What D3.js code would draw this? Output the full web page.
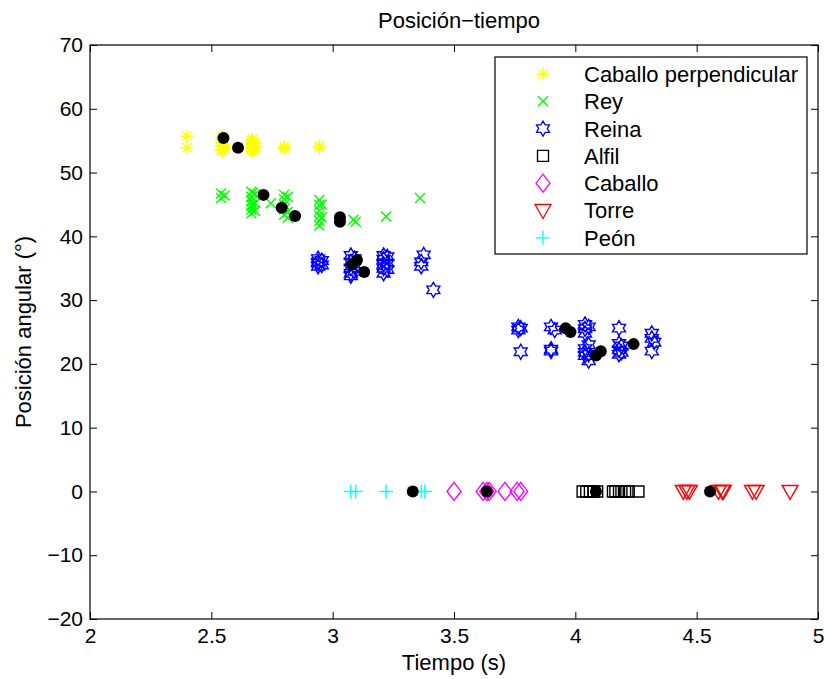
<!DOCTYPE html>
<html>
<head>
<meta charset="utf-8">
<script src="https://cdn.jsdelivr.net/npm/d3@7"></script>
<style>
  html, body { margin: 0; padding: 0; background: #fff; }
  svg { display: block; font-family: "Liberation Sans", Arial, Helvetica, sans-serif; }
</style>
</head>
<body>
<svg id="chart" width="825" height="679"></svg>
<script>
// Tiempo (s) y posición angular (°) de cada pieza
const caballoPerpT = [2.40, 2.40, 2.54, 2.54, 2.54, 2.54, 2.545, 2.545, 2.545, 2.555, 2.555,
                      2.665, 2.665, 2.665, 2.665, 2.67, 2.67, 2.67, 2.67, 2.68, 2.68, 2.685,
                      2.80, 2.80, 2.945, 2.945];
const caballoPerpA = [55.7, 53.9, 55.2, 54.2, 53.6, 54.8, 53.4, 54.0, 55.6, 53.8, 54.5,
                      53.5, 54.3, 55.0, 53.8, 54.1, 53.3, 55.2, 54.7, 54.6, 53.6, 54.0,
                      54.0, 53.8, 54.2, 53.9];

const reyT = [2.54, 2.54, 2.555, 2.665, 2.665, 2.665, 2.665, 2.665, 2.665, 2.67, 2.67, 2.68, 2.68, 2.68, 2.745,
              2.80, 2.80, 2.80, 2.80, 2.80, 2.815, 2.815, 2.815, 2.945, 2.945, 2.945, 2.945, 2.945, 2.945,
              2.955, 2.955, 3.085, 3.095, 3.22, 3.36];
const reyA = [46.7, 46.0, 46.4, 47.0, 46.2, 45.5, 44.8, 44.2, 43.6, 46.8, 45.0, 46.6, 45.2, 44.0, 45.2,
              46.5, 45.8, 45.0, 44.2, 43.4, 46.2, 43.8, 42.9, 45.7, 44.9, 44.0, 43.2, 42.4, 41.7,
              45.0, 43.0, 42.6, 42.3, 43.1, 46.0];

const reinaT = [2.94, 2.94, 2.94, 2.94, 2.955, 2.955, 3.075, 3.075, 3.075, 3.075, 3.075, 3.09, 3.09, 3.09,
                3.21, 3.21, 3.21, 3.21, 3.21, 3.225, 3.225, 3.225, 3.365, 3.365, 3.375, 3.415,
                3.765, 3.765, 3.775, 3.775, 3.90, 3.90, 3.90, 3.915,
                4.04, 4.04, 4.04, 4.04, 4.04, 4.04, 4.055, 4.055, 4.055, 4.055,
                4.18, 4.18, 4.18, 4.18, 4.19, 4.19, 4.315, 4.315, 4.315, 4.325];
const reinaA = [36.5, 35.8, 35.3, 36.0, 35.5, 36.2, 37.0, 36.0, 35.0, 34.2, 33.8, 36.5, 35.2, 34.5,
                37.0, 36.4, 35.6, 35.0, 34.2, 36.8, 35.8, 34.8, 35.3, 36.0, 37.1, 31.6,
                25.8, 25.3, 25.6, 21.9, 25.8, 22.3, 22.0, 25.3,
                26.2, 25.5, 24.8, 22.4, 21.8, 21.3, 25.8, 23.0, 21.5, 20.5,
                25.6, 23.2, 22.2, 21.5, 22.8, 21.8, 24.8, 24.0, 22.0, 23.4];

const alfilT = [4.03, 4.045, 4.06, 4.075, 4.09, 4.155, 4.165, 4.18, 4.19, 4.205, 4.22, 4.26];
const alfilA = [0, 0, 0, 0, 0, 0, 0, 0, 0, 0, 0, 0];

const caballoT = [3.50, 3.62, 3.635, 3.645, 3.71, 3.76, 3.775];
const caballoA = [0, 0, 0, 0, 0, 0, 0];

const torreT = [4.445, 4.46, 4.47, 4.59, 4.605, 4.61, 4.73, 4.745, 4.885];
const torreA = [0, 0, 0, 0, 0, 0, 0, 0, 0];

const peonT = [3.075, 3.095, 3.22, 3.365, 3.38];
const peonA = [0, 0, 0, 0, 0];

// Valores medios por grupo (círculos negros)
const mediaT = [2.55, 2.61, 2.715, 2.79, 2.845, 3.03, 3.03, 3.08, 3.10, 3.13,
                3.96, 3.98, 4.085, 4.105, 4.24, 3.33, 3.635, 4.085, 4.555];
const mediaA = [55.4, 53.9, 46.5, 44.5, 43.2, 42.3, 43.0, 35.6, 36.3, 34.4,
                25.6, 25.0, 21.3, 22.0, 23.1, 0, 0, 0, 0];

const xTicks = [2, 2.5, 3, 3.5, 4, 4.5, 5];
const yTicks = [-20, -10, 0, 10, 20, 30, 40, 50, 60, 70];

const series = [
  { name: "Caballo perpendicular", t: caballoPerpT, a: caballoPerpA, marker: "asterisk", color: "#ffff00" },
  { name: "Rey",     t: reyT,     a: reyA,     marker: "cross",    color: "#00ff00" },
  { name: "Reina",   t: reinaT,   a: reinaA,   marker: "hexagram", color: "#0000ff" },
  { name: "Alfil",   t: alfilT,   a: alfilA,   marker: "square",   color: "#000000" },
  { name: "Caballo", t: caballoT, a: caballoA, marker: "diamond",  color: "#ff00ff" },
  { name: "Torre",   t: torreT,   a: torreA,   marker: "triangle", color: "#ff0000" },
  { name: "Peón",    t: peonT,    a: peonA,    marker: "plus",     color: "#00ffff" }
];

const plot = { left: 90, right: 818, top: 45, bottom: 619 };

const svg = d3.select("#chart");
const x = d3.scaleLinear().domain([2, 5]).range([plot.left, plot.right]);
const y = d3.scaleLinear().domain([-20, 70]).range([plot.bottom, plot.top]);

// Marker outlines centred at the origin
function markerPath(type) {
  switch (type) {
    case "asterisk": {
      const r = 6.5, d = 4.6;
      return `M${-r},0H${r}M0,${-r}V${r}M${-d},${-d}L${d},${d}M${-d},${d}L${d},${-d}`;
    }
    case "cross": {
      const d = 5;
      return `M${-d},${-d}L${d},${d}M${-d},${d}L${d},${-d}`;
    }
    case "plus": {
      const r = 7;
      return `M${-r},0H${r}M0,${-r}V${r}`;
    }
    case "square": {
      const s = 5.5;
      return `M${-s},${-s}H${s}V${s}H${-s}Z`;
    }
    case "diamond": {
      const w = 7, h = 9;
      return `M0,${-h}L${w},0L0,${h}L${-w},0Z`;
    }
    case "triangle": {
      return `M-8,-6L8,-6L0,8Z`;
    }
    case "hexagram": {
      const R = 7.5, r = R / Math.sqrt(3);
      const pts = [];
      for (let i = 0; i < 12; i++) {
        const ang = -Math.PI / 2 + i * Math.PI / 6;
        const rad = i % 2 === 0 ? R : r;
        pts.push([rad * Math.cos(ang), rad * Math.sin(ang)]);
      }
      return "M" + pts.map(p => p[0].toFixed(2) + "," + p[1].toFixed(2)).join("L") + "Z";
    }
  }
  return "";
}

// Axes box and inward ticks on all four sides
const fontTick = 21;

const gBottom = svg.append("g").attr("transform", `translate(0,${plot.bottom})`)
  .call(d3.axisBottom(x).tickValues(xTicks).tickFormat(d3.format("")).tickSize(-7).tickPadding(9));
const gLeft = svg.append("g").attr("transform", `translate(${plot.left},0)`)
  .call(d3.axisLeft(y).tickValues(yTicks).tickFormat(d => d < 0 ? "\u2212" + Math.abs(d) : d).tickSize(-7).tickPadding(7));
const gTop = svg.append("g").attr("transform", `translate(0,${plot.top})`)
  .call(d3.axisTop(x).tickValues(xTicks).tickFormat("").tickSize(-7));
const gRight = svg.append("g").attr("transform", `translate(${plot.right},0)`)
  .call(d3.axisRight(y).tickValues(yTicks).tickFormat("").tickSize(-7));

[gBottom, gLeft, gTop, gRight].forEach(g => {
  g.select(".domain").remove();
  g.selectAll(".tick line").attr("stroke", "#000").attr("stroke-width", 1);
  g.selectAll("text").attr("fill", "#000").attr("font-size", fontTick)
    .attr("font-family", "'Liberation Sans', Arial, sans-serif");
});

svg.append("rect")
  .attr("x", plot.left).attr("y", plot.top)
  .attr("width", plot.right - plot.left).attr("height", plot.bottom - plot.top)
  .attr("fill", "none").attr("stroke", "#000").attr("stroke-width", 1.2);

// Data markers
const gData = svg.append("g");
series.forEach(s => {
  const pts = s.t.map((t, i) => ({ t, a: s.a[i] }));
  gData.append("g").selectAll("path").data(pts).join("path")
    .attr("transform", d => `translate(${x(d.t)},${y(d.a)})`)
    .attr("d", markerPath(s.marker))
    .attr("fill", "none")
    .attr("stroke", s.color)
    .attr("stroke-width", 1.4);
});

// Mean values
const medias = mediaT.map((t, i) => ({ t, a: mediaA[i] }));
gData.append("g").selectAll("circle").data(medias).join("circle")
  .attr("cx", d => x(d.t)).attr("cy", d => y(d.a)).attr("r", 6)
  .attr("fill", "#000");

// Legend
const leg = { x: 495, y: 57, w: 312, h: 197, rowY0: 74, rowH: 27.3, markX: 543, textX: 584 };
const gLeg = svg.append("g");
gLeg.append("rect")
  .attr("x", leg.x).attr("y", leg.y).attr("width", leg.w).attr("height", leg.h)
  .attr("fill", "#fff").attr("stroke", "#000").attr("stroke-width", 1.2);
series.forEach((s, i) => {
  const cy = leg.rowY0 + i * leg.rowH;
  gLeg.append("path")
    .attr("transform", `translate(${leg.markX},${cy})`)
    .attr("d", markerPath(s.marker))
    .attr("fill", "none").attr("stroke", s.color).attr("stroke-width", 1.3);
  gLeg.append("text")
    .attr("x", leg.textX).attr("y", cy).attr("dy", "0.36em")
    .attr("font-size", 22).attr("fill", "#000")
    .text(s.name);
});

// Titles
svg.append("text")
  .attr("x", 459).attr("y", 28).attr("text-anchor", "middle")
  .attr("font-size", 22).attr("fill", "#000")
  .text("Posición\u2212tiempo");

svg.append("text")
  .attr("x", 454).attr("y", 670).attr("text-anchor", "middle")
  .attr("font-size", 22).attr("fill", "#000")
  .text("Tiempo (s)");

svg.append("text")
  .attr("transform", "translate(31,332) rotate(-90)")
  .attr("text-anchor", "middle")
  .attr("font-size", 22).attr("fill", "#000")
  .text("Posición angular (°)");
</script>
</body>
</html>
